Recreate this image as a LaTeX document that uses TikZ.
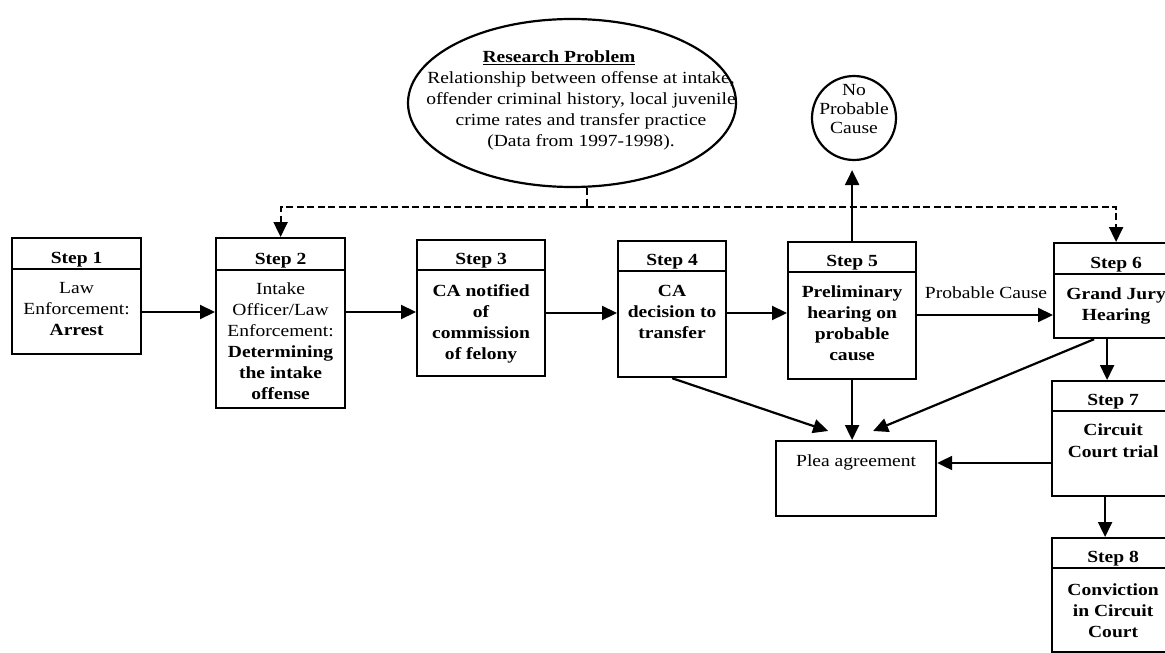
\documentclass[tikz,border=0pt]{standalone}
\usepackage{fontspec}
\setmainfont{Liberation Serif}[FakeStretch=1.15]
\usetikzlibrary{arrows.meta,shapes.geometric}
\begin{document}
\begin{tikzpicture}[x=1pt,y=-1pt,
  lw/.style={line width=2.2pt},
  box/.style={draw,lw,anchor=north west,inner sep=0pt},
  hdr/.style={font=\fontsize{17pt}{21pt}\selectfont\bfseries,anchor=base,inner sep=0pt},
  body/.style={font=\fontsize{17pt}{21pt}\selectfont,align=center,anchor=north,inner sep=0pt},
  bbody/.style={body,font=\fontsize{17pt}{21pt}\selectfont\bfseries},
  arr/.style={lw,-{Triangle[length=15pt,width=14pt]}},
  dline/.style={lw,dash pattern=on 7pt off 3.5pt},
  darr/.style={dline,-{Triangle[length=15pt,width=14pt]}}
]
\useasboundingbox (0,0) rectangle (1165,653);

% research problem ellipse
\node[draw,lw,ellipse,minimum width=328pt,minimum height=168pt,inner sep=0pt] (rp) at (572,103) {};
\node[body] (rptext) at (581,51) {\underline{\bfseries Research Problem}\hspace*{44pt}\\
  Relationship between offense at intake,\\
  offender criminal history, local juvenile\\
  crime rates and transfer practice\\
  (Data from 1997-1998).};

% no probable cause circle
\node[draw,lw,circle,minimum size=84pt,inner sep=0pt] (npc) at (854,118) {};
\node[body,font=\fontsize{17pt}{19pt}\selectfont] (npctext) at (854,84) {No\\Probable\\Cause};

% step boxes
\node[box,minimum width=129pt,minimum height=116pt] (s1) at (11,237) {};
\node[box,minimum width=129pt,minimum height=170pt] (s2) at (215,237) {};
\node[box,minimum width=128pt,minimum height=136pt] (s3) at (416,239) {};
\node[box,minimum width=108pt,minimum height=136pt] (s4) at (617,240) {};
\node[box,minimum width=128pt,minimum height=137pt] (s5) at (787,241) {};
\node[box,minimum width=124pt,minimum height=95pt] (s6) at (1053,242) {};
\node[box,minimum width=122pt,minimum height=115pt] (s7) at (1051,380) {};
\node[box,minimum width=122pt,minimum height=114pt] (s8) at (1051,537) {};
\node[box,minimum width=160pt,minimum height=75pt] (plea) at (775,440) {};

% header separators
\draw[lw] (s1.west |- 0,269) -- (s1.east |- 0,269);
\draw[lw] (s2.west |- 0,270) -- (s2.east |- 0,270);
\draw[lw] (s3.west |- 0,270) -- (s3.east |- 0,270);
\draw[lw] (s4.west |- 0,271) -- (s4.east |- 0,271);
\draw[lw] (s5.west |- 0,272) -- (s5.east |- 0,272);
\draw[lw] (s6.west |- 0,274) -- (s6.east |- 0,274);
\draw[lw] (s7.west |- 0,411) -- (s7.east |- 0,411);
\draw[lw] (s8.west |- 0,568) -- (s8.east |- 0,568);

% header texts
\node[hdr] (h1) at (s1.north |- 0,263.5) {Step 1};
\node[hdr] (h2) at (s2.north |- 0,264.5) {Step 2};
\node[hdr] (h3) at (s3.north |- 0,264.5) {Step 3};
\node[hdr] (h4) at (s4.north |- 0,265.5) {Step 4};
\node[hdr] (h5) at (s5.north |- 0,266.5) {Step 5};
\node[hdr] (h6) at (s6.north |- 0,268.5) {Step 6};
\node[hdr] (h7) at (s7.north |- 0,405.5) {Step 7};
\node[hdr] (h8) at (s8.north |- 0,562.5) {Step 8};

% body texts
\node[body] (b1) at (s1.north |- 0,282) {Law\\Enforcement:\\\textbf{Arrest}};
\node[body] (b2) at (s2.north |- 0,283) {Intake\\Officer/Law\\Enforcement:\\\textbf{Determining}\\\textbf{the intake}\\\textbf{offense}};
\node[bbody] (b3) at (s3.north |- 0,284) {CA notified\\of\\commission\\of felony};
\node[bbody] (b4) at (s4.north |- 0,285) {CA\\decision to\\transfer};
\node[bbody] (b5) at (s5.north |- 0,286) {Preliminary\\hearing on\\probable\\cause};
\node[bbody] (b6) at (s6.north |- 0,288) {Grand Jury\\Hearing};
\node[bbody] (b7) at (s7.north |- 0,424) {Circuit\\Court trial};
\node[bbody] (b8) at (s8.north |- 0,583) {Conviction\\in Circuit\\Court};
\node[hdr,font=\fontsize{17pt}{21pt}\selectfont] (pleatext) at (plea.north |- 0,466) {Plea agreement};

% main flow
\draw[arr] (s1.east |- 0,312) -- (s2.west |- 0,312);
\draw[arr] (s2.east |- 0,312) -- (s3.west |- 0,312);
\draw[arr] (s3.east |- 0,313) -- (s4.west |- 0,313);
\draw[arr] (s4.east |- 0,313) -- (s5.west |- 0,313);
\draw[arr] (s5.east |- 0,315) -- (s6.west |- 0,315);
\node[hdr,font=\fontsize{17pt}{21pt}\selectfont] (pc) at (986,298) {Probable Cause};

% no probable cause
\draw[arr,shorten >=9pt] (s5.north) -- (s5.north |- npc.south);

% research problem links
\coordinate (foot) at ([xshift=15pt]rp.south);
\coordinate (dj) at (foot |- 0,207);
\draw[dline] (foot) -- (dj);
\draw[darr] (dj) -| (s2.north);
\draw[darr] (dj) -| (s6.north);

% plea agreement links
\draw[arr] (s4.south) -- ([xshift=-28pt,yshift=9pt]plea.north);
\draw[arr] (s5.south) -- (s5.south |- plea.north);
\draw[arr] ([xshift=-22pt]s6.south) -- ([xshift=17pt,yshift=9pt]plea.north);
\draw[arr] (s7.west |- 0,463) -- (plea.east |- 0,463);

% later steps
\draw[arr] ([xshift=-9pt]s6.south) -- ([xshift=-9pt]s6.south |- s7.north);
\draw[arr] ([xshift=-8pt]s7.south) -- ([xshift=-8pt]s7.south |- s8.north);
\end{tikzpicture}
\end{document}
